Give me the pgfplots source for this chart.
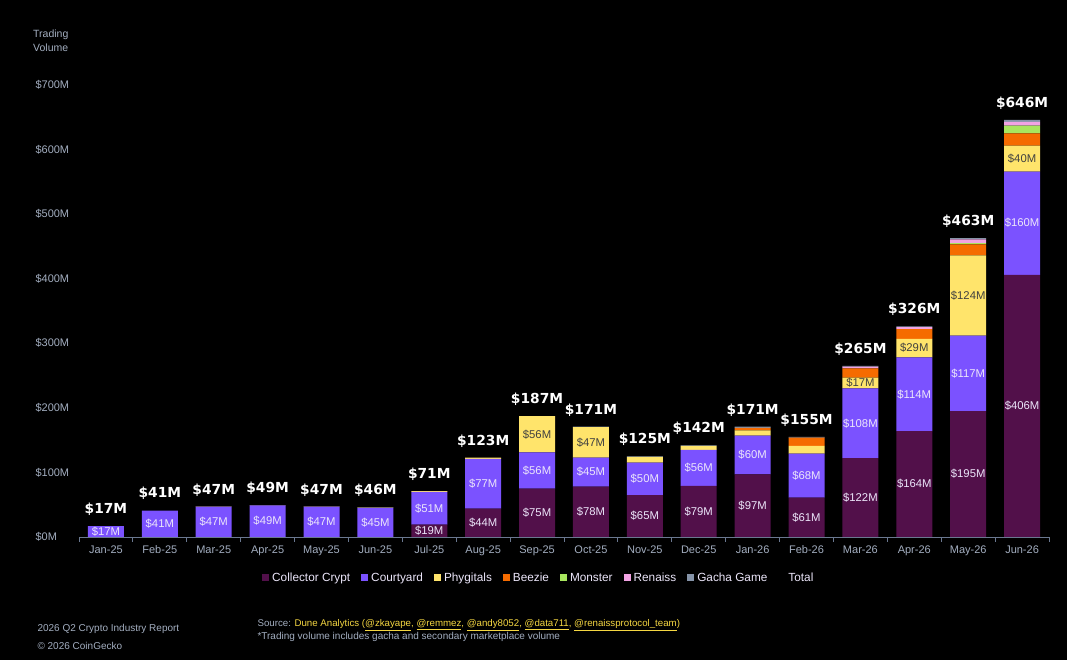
\documentclass[border=0pt]{standalone}
\usepackage{fontspec}
\setmainfont{Liberation Sans}
\newfontfamily\totfont{DejaVu Sans}
\usepackage{pgfplots}
\pgfplotsset{compat=1.18}
\definecolor{cc}{HTML}{52104A}
\definecolor{cy}{HTML}{7B52FF}
\definecolor{phy}{HTML}{FFE46B}
\definecolor{bee}{HTML}{F56B00}
\definecolor{mon}{HTML}{A8E65E}
\definecolor{ren}{HTML}{F2A3E3}
\definecolor{gac}{HTML}{8593A8}
\definecolor{greytext}{HTML}{A3AEC0}
\definecolor{axisgrey}{HTML}{6A7890}
\definecolor{srcyellow}{HTML}{F5D742}
\definecolor{lbl}{HTML}{ECE6FA}
\begin{document}
\begin{tikzpicture}
\fill[black] (0pt,0pt) rectangle (1067pt,660pt);
\useasboundingbox (0pt,0pt) rectangle (1067pt,660pt);
\node[anchor=north west, align=left, text=greytext, font=\fontsize{10.5}{14}\selectfont, inner sep=0pt] at (33pt,630pt) {Trading\\Volume};
\begin{axis}[
  at={(79pt,123pt)}, anchor=south west, scale only axis,
  width=970pt, height=452pt,
  ybar stacked, bar width=36pt,
  xmin=-0.5, xmax=17.5, ymin=0, ymax=700,
  clip=false,
  axis lines*=left,
  y axis line style={draw=none},
  x axis line style={draw=axisgrey, line width=0.8pt},
  ytick={0,100,...,700},
  yticklabels={\$0M,\$100M,\$200M,\$300M,\$400M,\$500M,\$600M,\$700M},
  ytick style={draw=none},
  yticklabel style={anchor=west, xshift=-47pt, text=greytext, font=\fontsize{11}{11}\selectfont},
  xtick={0,...,17},
  xticklabels={Jan-25,Feb-25,Mar-25,Apr-25,May-25,Jun-25,Jul-25,Aug-25,Sep-25,Oct-25,Nov-25,Dec-25,Jan-26,Feb-26,Mar-26,Apr-26,May-26,Jun-26},
  xtick style={draw=none},
  xticklabel style={text=greytext, font=\fontsize{11}{11}\selectfont, yshift=-5pt},
  extra x ticks={-0.5,0.5,...,17.5},
  extra x tick labels={},
  extra x tick style={xtick style={draw=axisgrey, line width=0.8pt}, major tick length=5pt, tick align=outside},
  every axis plot post/.append style={legend image code/.code={\fill[##1] (0pt,-3.5pt) rectangle (7pt,3.5pt);}},
  legend columns=-1,
  legend style={at={(0.474,-0.0907)}, anchor=center, draw=none, fill=none, text=lbl, font=\fontsize{11.8}{12}\selectfont, /tikz/every even column/.append style={column sep=9pt}, /tikz/every odd column/.append style={column sep=1pt}},
]
\addplot[fill=cc, draw=none] coordinates {(0,0)(1,0)(2,0)(3,0)(4,0)(5,0)(6,19)(7,44)(8,75)(9,78)(10,65)(11,79)(12,97)(13,61)(14,122)(15,164)(16,195)(17,406)};
\addplot[fill=cy, draw=none] coordinates {(0,17)(1,41)(2,47)(3,49)(4,47)(5,45)(6,51)(7,77)(8,56)(9,45)(10,50)(11,56)(12,60)(13,68)(14,108)(15,114)(16,117)(17,160)};
\addplot[fill=phy, draw=none] coordinates {(0,0)(1,0)(2,0.5)(3,0.3)(4,0.3)(5,0.5)(6,1)(7,2)(8,56)(9,47)(10,9)(11,6)(12,8)(13,12)(14,17)(15,29)(16,124)(17,40)};
\addplot[fill=bee, draw=none] coordinates {(0,0)(1,0)(2,0)(3,0)(4,0)(5,0)(6,0)(7,0)(8,0)(9,0)(10,0)(11,0)(12,4)(13,13)(14,14)(15,15)(16,17)(17,19)};
\addplot[fill=mon, draw=none] coordinates {(0,0)(1,0)(2,0)(3,0)(4,0)(5,0)(6,0)(7,0)(8,0)(9,0)(10,0)(11,0)(12,0)(13,0)(14,0)(15,0)(16,2)(17,12)};
\addplot[fill=ren, draw=none] coordinates {(0,0)(1,0)(2,0)(3,0)(4,0)(5,0)(6,0)(7,0)(8,0)(9,0)(10,0)(11,0)(12,0)(13,0)(14,3)(15,3)(16,6)(17,6)};
\addplot[fill=gac, draw=none] coordinates {(0,0)(1,0)(2,0)(3,0)(4,0)(5,0.5)(6,0)(7,0)(8,0)(9,1)(10,1)(11,1)(12,2)(13,1)(14,1)(15,1)(16,2)(17,3)};
\addplot[draw=none, fill=none] coordinates {(0,0)};
\legend{Collector Crypt,Courtyard,Phygitals,Beezie,Monster,Renaiss,Gacha Game,Total}
\end{axis}
\begin{axis}[
  at={(79pt,123pt)}, anchor=south west, scale only axis,
  width=970pt, height=452pt,
  xmin=-0.5, xmax=17.5, ymin=0, ymax=700,
  hide axis, clip=false,
]
\addplot[draw=none, mark=none, nodes near coords, point meta=explicit symbolic, nodes near coords align=center,
  every node near coord/.append style={text=lbl, font=\fontsize{11.3}{11}\selectfont}]
  coordinates {(0,8.5)[\$17M](1,20.5)[\$41M](2,23.5)[\$47M](3,24.5)[\$49M](4,23.5)[\$47M](5,22.5)[\$45M]
  (6,9.5)[\$19M](6,44.5)[\$51M](7,22)[\$44M](7,82.5)[\$77M](8,37.5)[\$75M](8,103)[\$56M](9,39)[\$78M](9,100.5)[\$45M]
  (10,32.5)[\$65M](10,90)[\$50M](11,39.5)[\$79M](11,107)[\$56M](12,48.5)[\$97M](12,127)[\$60M](13,30.5)[\$61M](13,95)[\$68M]
  (14,61)[\$122M](14,176)[\$108M](15,82)[\$164M](15,221)[\$114M](16,97.5)[\$195M](16,253.5)[\$117M](17,203)[\$406M](17,486)[\$160M]};
\addplot[draw=none, mark=none, nodes near coords, point meta=explicit symbolic, nodes near coords align=center,
  every node near coord/.append style={text=black!75, font=\fontsize{11.3}{11}\selectfont}]
  coordinates {(8,159)[\$56M](9,146.5)[\$47M](14,238.5)[\$17M](15,292.5)[\$29M](16,374)[\$124M](17,586)[\$40M]};
\addplot[draw=none, mark=none, nodes near coords, point meta=explicit symbolic, nodes near coords align=above,
  every node near coord/.append style={text=white, font=\totfont\bfseries\fontsize{13.8}{14}\selectfont, yshift=7pt}]
  coordinates {(0,17)[\$17M](1,41)[\$41M](2,47)[\$47M](3,49)[\$49M](4,47)[\$47M](5,46)[\$46M](6,71)[\$71M](7,123)[\$123M](8,187)[\$187M](9,171)[\$171M](10,125)[\$125M](11,142)[\$142M](12,171)[\$171M](13,155)[\$155M](14,265)[\$265M](15,326)[\$326M](16,463)[\$463M](17,646)[\$646M]};
\end{axis}
\node[anchor=west, text=greytext, font=\fontsize{10}{10}\selectfont] at (34pt,31pt) {2026 Q2 Crypto Industry Report};
\node[anchor=west, text=greytext, font=\fontsize{10}{10}\selectfont] at (34pt,14pt) {© 2026 CoinGecko};
\node[anchor=west, text=greytext, font=\fontsize{9.7}{10}\selectfont] at (254pt,35pt) {Source: \textcolor{srcyellow}{Dune Analytics (\underline{@zkayape}, \underline{@remmez}, \underline{@andy8052}, \underline{@data711}, \underline{@renaissprotocol\_team})}};
\node[anchor=west, text=greytext, font=\fontsize{10}{10}\selectfont] at (254pt,23pt) {*Trading volume includes gacha and secondary marketplace volume};
\end{tikzpicture}
\end{document}
